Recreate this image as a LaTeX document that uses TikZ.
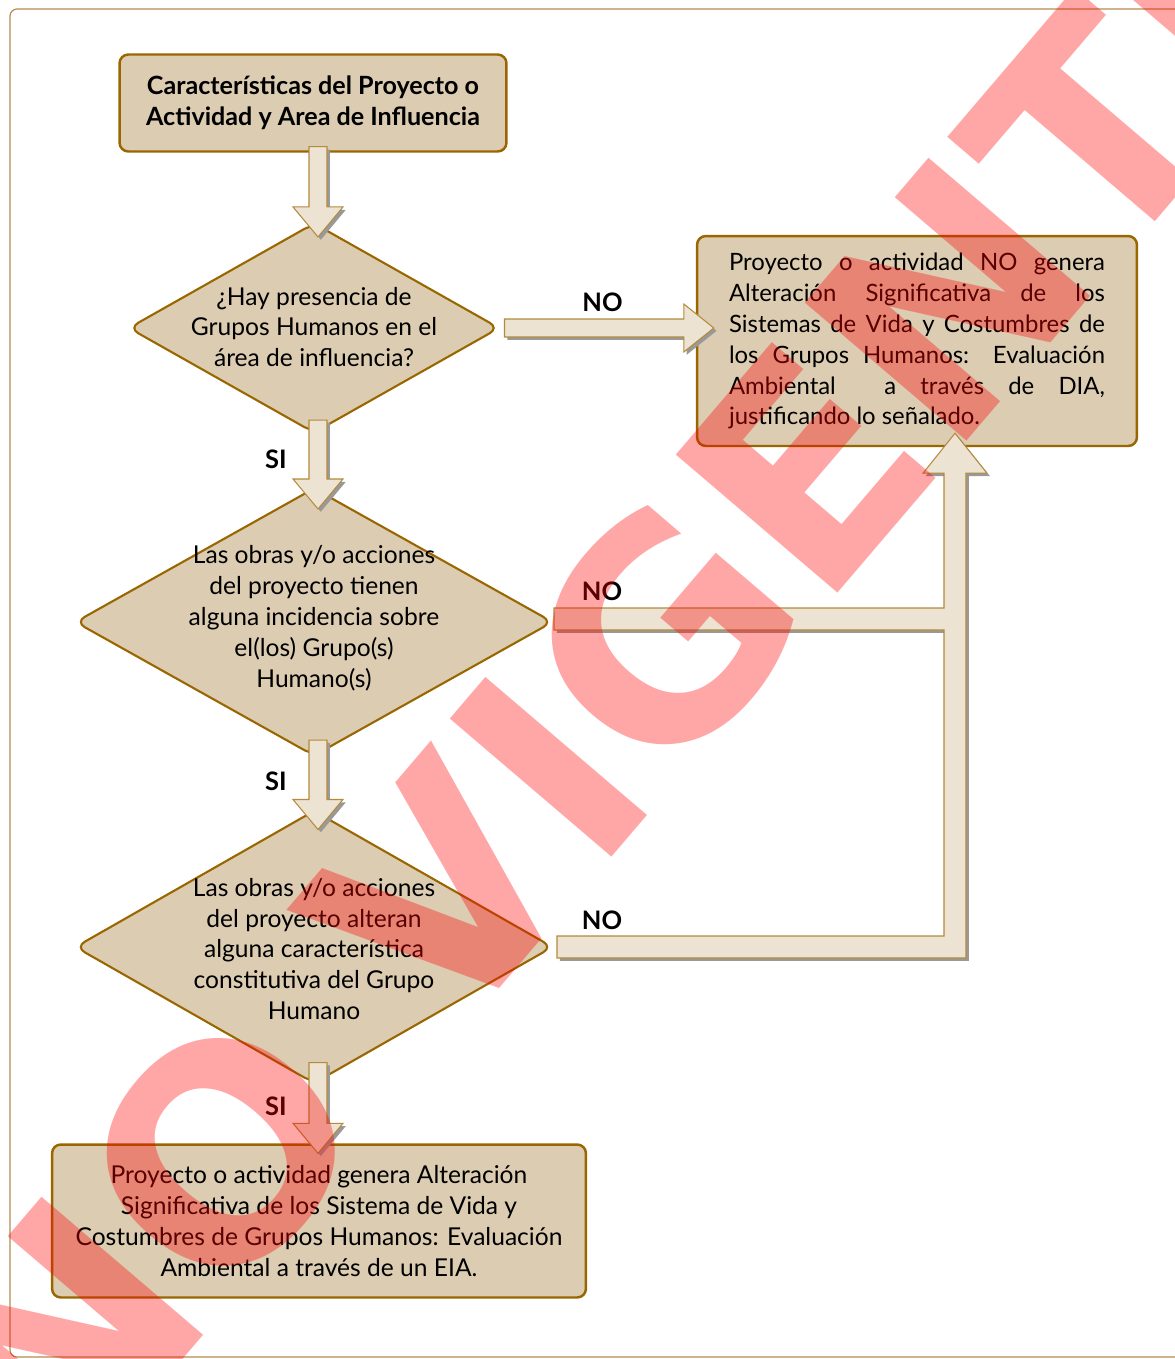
\documentclass[tikz,border=0pt]{standalone}
\usepackage{fontspec}
\setmainfont{Lato}
\newfontfamily\sellofont{DejaVu Sans}
\usetikzlibrary{shapes.geometric}
\usetikzlibrary{calc}
\usetikzlibrary{shadows}

\definecolor{cajafondo}{RGB}{220,204,178}
\definecolor{cajaborde}{RGB}{153,102,0}
\definecolor{flechafondo}{RGB}{236,227,211}
\definecolor{flechaborde}{RGB}{180,138,60}
\definecolor{marco}{RGB}{180,140,80}

% 縦の矢印 (#1: 始点, #2: 先端の高さ)
\newcommand{\flechav}[2]{%
  \coordinate (tmp) at (#1 |- #2);
  \draw[flecha] ($(#1)+(-9,0)$) -- ($(tmp)+(-9,-30)$) -- ($(tmp)+(-25,-30)$)
    -- (tmp) -- ($(tmp)+(25,-30)$) -- ($(tmp)+(9,-30)$) -- ($(#1)+(9,0)$) -- cycle;}

\begin{document}
\begin{tikzpicture}[x=0.02cm,y=-0.02cm,
    font=\fontsize{14}{17.6}\selectfont,
    caja/.style={rectangle,rounded corners=5pt,fill=cajafondo,draw=cajaborde,%
      line width=1.4pt,align=center,inner sep=0pt},
    rombo/.style={diamond,rounded corners=6pt,fill=cajafondo,draw=cajaborde,%
      line width=1.2pt,inner sep=0pt},
    texto/.style={align=center,inner sep=0pt},
    flecha/.style={fill=flechafondo,draw=flechaborde,line width=0.6pt,%
      drop shadow={shadow xshift=1.6pt,shadow yshift=-1.6pt,fill=black!40,opacity=1}},
    etiqueta/.style={font=\fontsize{14.5}{17.6}\selectfont\bfseries,inner sep=0pt},
    sello/.style={rotate=49.5,text=red,text opacity=0.35,inner sep=0pt,%
      font=\sellofont\bfseries\fontsize{166}{166}\selectfont}]

  % ここまでをバウンディングボックス内とする
  \useasboundingbox (0,0) rectangle (1175,1359);
  \draw[marco,line width=0.7pt,rounded corners=4pt] (10,9) rectangle (1195,1357);

  \node[caja,minimum width=7.74cm,minimum height=1.94cm,font=\fontsize{14.3}{17.4}\selectfont\bfseries]
    (inicio) at (313,103){%
    Características del Proyecto o\\Actividad y Area de Influencia};

  \node[rombo,minimum width=7.42cm,minimum height=4.2cm] (p1) at (314,328){};
  \node[texto] (t1) at ($(p1.center)+(0,-1)$){%
    ¿Hay presencia de\\Grupos Humanos en el\\área de influencia?};

  \node[rombo,minimum width=9.56cm,minimum height=5.36cm] (p2) at (314,622){};
  \node[texto] (t2) at ($(p2.center)+(0,-4)$){%
    Las obras y/o acciones\\del proyecto tienen\\alguna incidencia sobre\\%
    el(los) Grupo(s)\\Humano(s)};

  \node[rombo,minimum width=9.56cm,minimum height=5.46cm] (p3) at (314,947){};
  \node[texto] (t3) at ($(p3.center)+(0,2)$){%
    Las obras y/o acciones\\del proyecto alteran\\alguna característica\\%
    constitutiva del Grupo\\Humano};

  \node[caja,text width=7.52cm,align=justify,inner xsep=0.64cm,minimum height=4.2cm,%
    font=\fontsize{13.6}{17.6}\selectfont]
    (resultado) at (917,341){%
    Proyecto o actividad NO genera\linebreak
    Alteración Significativa de los\linebreak
    Sistemas de Vida y Costumbres de\linebreak
    los Grupos Humanos: Evaluación\linebreak
    Ambiental \ a través de DIA,\linebreak
    justificando lo señalado.};

  \node[caja,minimum width=10.68cm,minimum height=3.06cm] (final) at (319,1221){%
    Proyecto o actividad genera Alteración\\Significativa de los Sistema de Vida y\\%
    Costumbres de Grupos Humanos: Evaluación\\Ambiental a través de un EIA.};

  % 矢印
  \coordinate (s1) at ($(inicio.south)+(5,-6)$);
  \coordinate (s2) at ($(p1.south)+(4,-14)$);
  \coordinate (s3) at ($(p2.south)+(4,-17)$);
  \coordinate (s4) at ($(p3.south)+(4,-22)$);
  \coordinate (e1) at ($(p1.north)+(0,15)$);
  \coordinate (e2) at ($(p2.north)+(0,22)$);
  \coordinate (e3) at ($(p3.north)+(0,20)$);
  \coordinate (e4) at ($(final.north)+(0,10)$);
  \flechav{s1}{e1}
  \flechav{s2}{e2}
  \flechav{s3}{e3}
  \flechav{s4}{e4}

  \coordinate (h1) at ($(p1.east)+(4,0)$);
  \coordinate (h0) at (resultado.west |- p1.east);
  \coordinate (h2) at ($(h0)+(18,0)$);
  \draw[flecha] ($(h1)+(0,-9)$) -- ($(h2)+(-30,-9)$) -- ($(h2)+(-30,-24)$) -- (h2)
    -- ($(h2)+(-30,24)$) -- ($(h2)+(-30,9)$) -- ($(h1)+(0,9)$) -- cycle;

  \coordinate (n2s) at ($(p2.east)+(0,-3)$);
  \coordinate (n3s) at ($(p3.east)+(3,0)$);
  \coordinate (punta) at ($(resultado.south)+(38,-14)$);
  \coordinate (c2) at (punta |- n2s);
  \coordinate (c3) at (punta |- n3s);
  \draw[flecha] ($(n2s)+(0,-11)$) -- ($(c2)+(-11,-11)$) -- ($(punta)+(-11,40)$)
    -- ($(punta)+(-32,40)$) -- (punta) -- ($(punta)+(32,40)$) -- ($(punta)+(11,40)$)
    -- ($(c3)+(11,11)$) -- ($(n3s)+(0,11)$) -- ($(n3s)+(0,-11)$) -- ($(c3)+(-11,-11)$)
    -- ($(c2)+(-11,11)$) -- ($(n2s)+(0,11)$) -- cycle;

  \node[etiqueta] (no1) at ($(p1.east)+(102,-26)$){NO};
  \node[etiqueta] (no2) at ($(p2.east)+(48,-31)$){NO};
  \node[etiqueta] (no3) at ($(p3.east)+(48,-27)$){NO};
  \node[etiqueta] (si1) at ($(p1.south)+(-38,25)$){SI};
  \node[etiqueta] (si2) at ($(p2.south)+(-38,24)$){SI};
  \node[etiqueta] (si3) at ($(p3.south)+(-38,22)$){SI};

  % 透かし
  \node[sello] (marca) at (634,668){NO VIGENTE};
\end{tikzpicture}
\end{document}
